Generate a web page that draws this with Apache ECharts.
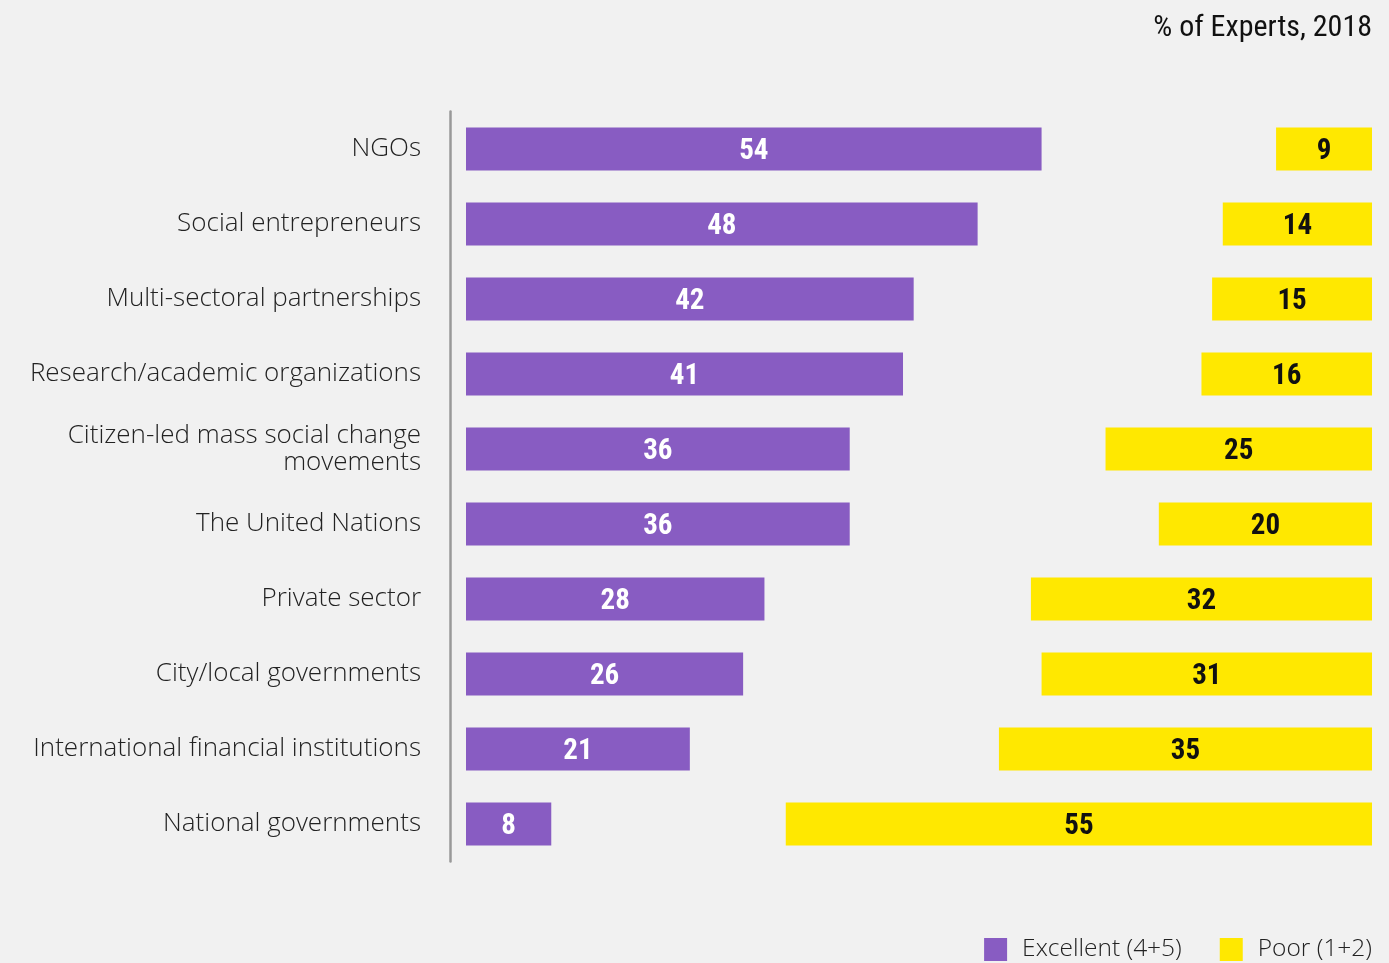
<!DOCTYPE html>
<html>
<head>
<meta charset="utf-8">
<script src="https://cdn.jsdelivr.net/npm/echarts@6/dist/echarts.min.js"></script>
<style>
html,body{margin:0;padding:0;background:#f1f1f1;}
#main{width:1389px;height:963px;}
</style>
</head>
<body>
<div id="main"></div>
<script>
var categories = [
  "NGOs",
  "Social entrepreneurs",
  "Multi-sectoral partnerships",
  "Research/academic organizations",
  "Citizen-led mass social change\nmovements",
  "The United Nations",
  "Private sector",
  "City/local governments",
  "International financial institutions",
  "National governments"
];
var excellent = [54, 48, 42, 41, 36, 36, 28, 26, 21, 8];
var poor = [9, 14, 15, 16, 25, 20, 32, 31, 35, 55];
var seriesNames = ["Excellent (4+5)", "Poor (1+2)"];
var titleText = "% of Experts, 2018";

var condensed = '"Liberation Sans Narrow", "Roboto Condensed", "DejaVu Sans Condensed", sans-serif';
var lightSans = '"Open Sans", Inter, sans-serif';

var chart = echarts.init(document.getElementById('main'));
chart.setOption({
  backgroundColor: '#f1f1f1',
  animation: false,
  title: {
    text: titleText,
    right: 17,
    top: 13,
    padding: 0,
    textStyle: {
      fontFamily: condensed,
      fontWeight: 'normal',
      fontSize: 30,
      color: '#111'
    }
  },
  legend: {
    data: seriesNames,
    right: 17,
    top: 937,
    padding: 0,
    icon: 'rect',
    itemWidth: 23,
    itemHeight: 23,
    itemGap: 38,
    textStyle: {
      fontFamily: lightSans,
      fontWeight: 300,
      fontSize: 24.5,
      color: '#222',
      padding: [0, 0, 0, 10]
    }
  },
  grid: {
    left: 466,
    right: 17,
    top: 111.5,
    bottom: 101.5
  },
  xAxis: [
    { type: 'value', min: 0, max: 85, show: false },
    { type: 'value', min: 0, max: 85, inverse: true, show: false }
  ],
  yAxis: {
    type: 'category',
    data: categories,
    inverse: true,
    offset: 16,
    axisLine: { show: true, onZero: false, lineStyle: { color: '#999', width: 2.5 } },
    axisTick: { show: false },
    splitLine: { show: false },
    axisLabel: {
      margin: 29,
      fontFamily: lightSans,
      fontWeight: 300,
      fontSize: 26,
      lineHeight: 27,
      color: '#222',
      align: 'right'
    }
  },
  series: [
    {
      name: seriesNames[0],
      type: 'bar',
      xAxisIndex: 0,
      data: excellent,
      barWidth: 43,
      barGap: '-100%',
      itemStyle: { color: '#885cc2' },
      label: {
        show: true,
        position: 'inside',
        offset: [0, 3],
        color: '#fff',
        fontFamily: condensed,
        fontWeight: 'bold',
        fontSize: 29
      }
    },
    {
      name: seriesNames[1],
      type: 'bar',
      xAxisIndex: 1,
      data: poor,
      barWidth: 43,
      barGap: '-100%',
      itemStyle: { color: '#ffe800' },
      label: {
        show: true,
        position: 'inside',
        offset: [0, 3],
        color: '#111',
        fontFamily: condensed,
        fontWeight: 'bold',
        fontSize: 29
      }
    }
  ]
});
</script>
</body>
</html>
